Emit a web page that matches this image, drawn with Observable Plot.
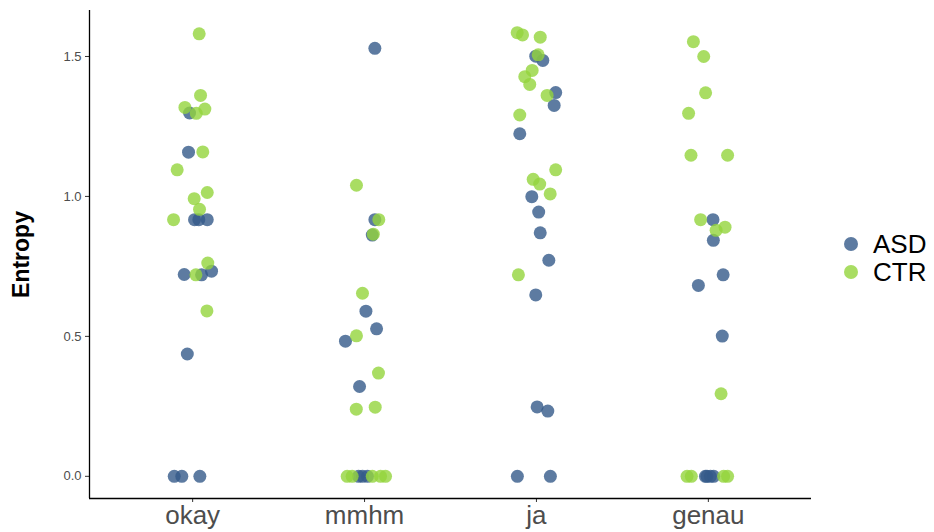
<!DOCTYPE html>
<html><head><meta charset="utf-8">
<script src="https://cdn.jsdelivr.net/npm/d3@7"></script>
<script src="https://cdn.jsdelivr.net/npm/@observablehq/plot@0.6"></script>
<style>
body{margin:0;background:#fff;font-family:"Liberation Sans",Arial,sans-serif;}
#wrap{position:relative;width:934px;height:532px;}
#legend{position:absolute;left:836px;top:230px;}
.item{display:flex;align-items:center;height:28px;font-size:26px;line-height:28px;color:#000;}
.sw{width:14px;height:14px;border-radius:50%;margin-left:8px;margin-right:15px;}
</style></head><body>
<div id="wrap"><div id="legend"></div></div>
<script>
const categories = ["okay", "mmhm", "ja", "genau"];
const groups = ["ASD", "CTR"];
const colors = ["#345A8A", "#94D43C"];
const yTicks = [0, 0.5, 1.0, 1.5];

// Entropy values, with horizontal jitter (in category units)
const okayASD = [1.298, 1.158, 0.917, 0.917, 0.917, 0.721, 0.720, 0.733, 0.437, 0, 0, 0];
const okayASDJitter = [-0.018, -0.024, 0.011, 0.036, 0.085, -0.049, 0.052, 0.110, -0.031, -0.107, -0.063, 0.042];
const okayCTR = [1.581, 1.361, 1.318, 1.297, 1.312, 1.159, 1.095, 1.014, 0.992, 0.954, 0.917, 0.762, 0.720, 0.591];
const okayCTRJitter = [0.038, 0.046, -0.045, 0.021, 0.071, 0.059, -0.090, 0.085, 0.009, 0.040, -0.111, 0.088, 0.019, 0.083];

const mmhmASD = [1.529, 0.917, 0.862, 0.590, 0.527, 0.483, 0.321, 0, 0, 0];
const mmhmASDJitter = [0.060, 0.060, 0.045, 0.008, 0.070, -0.111, -0.029, -0.035, -0.012, 0.017];
const mmhmCTR = [1.040, 0.917, 0.865, 0.654, 0.502, 0.369, 0.240, 0.247, 0, 0, 0, 0, 0];
const mmhmCTRJitter = [-0.047, 0.083, 0.051, -0.012, -0.047, 0.081, -0.048, 0.062, -0.101, -0.072, 0.045, 0.093, 0.122];

const jaASD = [1.501, 1.486, 1.371, 1.325, 1.224, 0.999, 0.944, 0.870, 0.772, 0.648, 0.248, 0.233, 0, 0];
const jaASDJitter = [-0.004, 0.037, 0.112, 0.103, -0.097, -0.027, 0.013, 0.022, 0.072, -0.004, 0.004, 0.066, -0.111, 0.081];
const jaCTR = [1.585, 1.577, 1.569, 1.506, 1.450, 1.428, 1.400, 1.361, 1.291, 1.095, 1.061, 1.044, 1.009, 0.720];
const jaCTRJitter = [-0.112, -0.081, 0.022, 0.010, -0.025, -0.068, -0.039, 0.062, -0.097, 0.112, -0.019, 0.019, 0.080, -0.105];

const genauASD = [0.917, 0.843, 0.720, 0.682, 0.501, 0, 0, 0, 0];
const genauASDJitter = [0.027, 0.029, 0.086, -0.058, 0.081, -0.017, -0.008, 0.012, 0.031];
const genauCTR = [1.553, 1.500, 1.370, 1.297, 1.147, 1.147, 0.917, 0.890, 0.879, 0.295, 0, 0, 0, 0];
const genauCTRJitter = [-0.087, -0.027, -0.016, -0.115, -0.101, 0.112, -0.045, 0.097, 0.045, 0.074, -0.124, -0.099, 0.089, 0.112];

const series = {
  okay: {ASD: [okayASD, okayASDJitter], CTR: [okayCTR, okayCTRJitter]},
  mmhm: {ASD: [mmhmASD, mmhmASDJitter], CTR: [mmhmCTR, mmhmCTRJitter]},
  ja: {ASD: [jaASD, jaASDJitter], CTR: [jaCTR, jaCTRJitter]},
  genau: {ASD: [genauASD, genauASDJitter], CTR: [genauCTR, genauCTRJitter]}
};

const rows = [];
categories.forEach((c, i) => {
  groups.forEach(g => {
    const [vals, jit] = series[c][g];
    vals.forEach((v, k) => rows.push({cat: c, group: g, entropy: v, pos: i + jit[k]}));
  });
});

const xMin = -0.6, xMax = categories.length - 1 + 0.6;
const yMax0 = 1.585;
const yMin = -0.05 * yMax0, yMax = yMax0 * 1.05;

const chart = Plot.plot({
  width: 934,
  height: 532,
  marginLeft: 89,
  marginRight: 123,
  marginTop: 10,
  marginBottom: 34,
  x: {type: "linear", domain: [xMin, xMax], axis: null},
  y: {domain: [yMin, yMax], axis: null},
  color: {domain: groups, range: colors},
  style: {fontFamily: "'Liberation Sans', Arial, sans-serif", background: "white"},
  marks: [
    Plot.axisY({ticks: yTicks, tickFormat: d3.format(".1f"), tickSize: 4, tickPadding: 4, fontSize: 13, label: null, stroke: "#333", fill: "#4d4d4d"}),
    Plot.axisX({ticks: categories.map((c, i) => i), tickFormat: i => categories[i], tickSize: 4, tickPadding: 3, fontSize: 26, label: null, stroke: "#333", fill: "#4d4d4d"}),
    Plot.ruleX([xMin], {stroke: "black", strokeWidth: 1.3}),
    Plot.ruleY([yMin], {stroke: "black", strokeWidth: 1.3}),
    Plot.dot(rows.filter(d => d.group === "ASD"), {x: "pos", y: "entropy", r: 6.5, fill: "group", fillOpacity: 0.8}),
    Plot.dot(rows.filter(d => d.group === "CTR"), {x: "pos", y: "entropy", r: 6.5, fill: "group", fillOpacity: 0.8}),
    Plot.text(["Entropy"], {frameAnchor: "left", textAnchor: "middle", rotate: -90, dx: -68, fontSize: 23, fontWeight: "bold", fill: "black"})
  ]
});
document.getElementById("wrap").prepend(chart);

const legend = document.getElementById("legend");
groups.forEach((g, i) => {
  const it = document.createElement("div");
  it.className = "item";
  const sw = document.createElement("span");
  sw.className = "sw";
  sw.style.background = colors[i];
  sw.style.opacity = 0.8;
  const t = document.createElement("span");
  t.textContent = g;
  it.appendChild(sw); it.appendChild(t);
  legend.appendChild(it);
});
</script>
</body></html>
